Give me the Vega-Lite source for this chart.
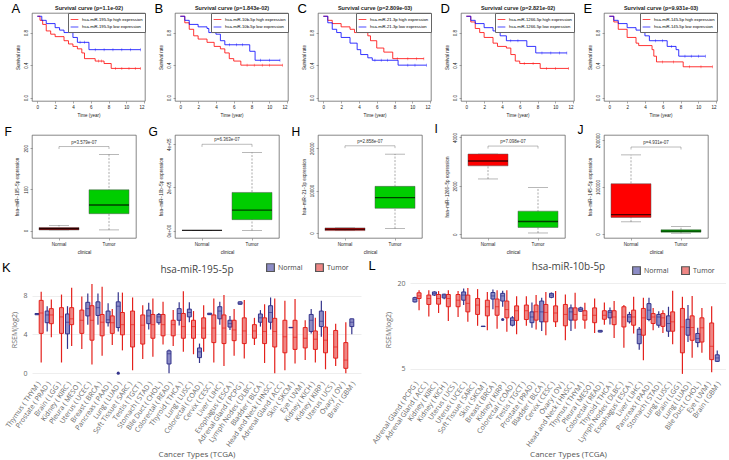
{
"$schema":"https://vega.github.io/schema/vega-lite/v6.json",
"background":"white",
"padding":{"left":2,"top":2,"right":0,"bottom":0},
"config":{
 "font":"Liberation Sans",
 "view":{"stroke":"#555","strokeWidth":0.7},
 "axis":{"labelFontSize":4.5,"titleFontSize":4.5,"titleFontWeight":"normal","labelColor":"#222","titleColor":"#222","tickColor":"#555","tickSize":2,"tickWidth":0.5,"grid":false,"domain":false,"labelPadding":1.5,"titlePadding":3},
 "legend":{"orient":"top-right","offset":0,"padding":2,"strokeColor":"#666","fillColor":"white","labelFontSize":4.2,"symbolType":"stroke","symbolSize":60,"symbolStrokeWidth":1,"rowPadding":0.5,"labelLimit":300,"labelOffset":3},
 "title":{"anchor":"start","frame":"bounds","fontSize":13,"fontWeight":"normal","color":"#000"}
},
"datasets":{
"surv":[
{"p":"A","g":"high","t":0,"s":1},{"p":"A","g":"high","t":0.3,"s":0.95},{"p":"A","g":"high","t":0.6,"s":0.9},{"p":"A","g":"high","t":1,"s":0.82},{"p":"A","g":"high","t":1.5,"s":0.78},{"p":"A","g":"high","t":2,"s":0.75},{"p":"A","g":"high","t":3,"s":0.7},{"p":"A","g":"high","t":3.5,"s":0.66},{"p":"A","g":"high","t":4,"s":0.63},{"p":"A","g":"high","t":4.5,"s":0.6},{"p":"A","g":"high","t":5,"s":0.55},{"p":"A","g":"high","t":5.3,"s":0.48},{"p":"A","g":"high","t":6.5,"s":0.45},{"p":"A","g":"high","t":7.5,"s":0.42},{"p":"A","g":"high","t":8.3,"s":0.36},{"p":"A","g":"high","t":11.6,"s":0.36},
{"p":"A","g":"low","t":0,"s":1},{"p":"A","g":"low","t":0.5,"s":0.95},{"p":"A","g":"low","t":1,"s":0.91},{"p":"A","g":"low","t":2,"s":0.86},{"p":"A","g":"low","t":2.5,"s":0.83},{"p":"A","g":"low","t":3,"s":0.8},{"p":"A","g":"low","t":4,"s":0.74},{"p":"A","g":"low","t":4.5,"s":0.68},{"p":"A","g":"low","t":5.8,"s":0.59},{"p":"A","g":"low","t":11.6,"s":0.59},
{"p":"B","g":"high","t":0,"s":1},{"p":"B","g":"high","t":0.5,"s":0.92},{"p":"B","g":"high","t":1,"s":0.84},{"p":"B","g":"high","t":1.5,"s":0.76},{"p":"B","g":"high","t":2,"s":0.72},{"p":"B","g":"high","t":3,"s":0.68},{"p":"B","g":"high","t":3.8,"s":0.63},{"p":"B","g":"high","t":4.5,"s":0.6},{"p":"B","g":"high","t":5,"s":0.55},{"p":"B","g":"high","t":5.5,"s":0.48},{"p":"B","g":"high","t":6,"s":0.45},{"p":"B","g":"high","t":6.8,"s":0.4},{"p":"B","g":"high","t":11.5,"s":0.4},
{"p":"B","g":"low","t":0,"s":1},{"p":"B","g":"low","t":0.5,"s":0.95},{"p":"B","g":"low","t":1,"s":0.9},{"p":"B","g":"low","t":2,"s":0.87},{"p":"B","g":"low","t":3,"s":0.85},{"p":"B","g":"low","t":3.2,"s":0.8},{"p":"B","g":"low","t":4,"s":0.78},{"p":"B","g":"low","t":4.5,"s":0.7},{"p":"B","g":"low","t":5,"s":0.65},{"p":"B","g":"low","t":7.8,"s":0.57},{"p":"B","g":"low","t":8.4,"s":0.46},{"p":"B","g":"low","t":11.2,"s":0.46},
{"p":"C","g":"high","t":0,"s":1},{"p":"C","g":"high","t":0.5,"s":0.95},{"p":"C","g":"high","t":1,"s":0.91},{"p":"C","g":"high","t":2,"s":0.87},{"p":"C","g":"high","t":3,"s":0.84},{"p":"C","g":"high","t":3.5,"s":0.8},{"p":"C","g":"high","t":5,"s":0.76},{"p":"C","g":"high","t":5.3,"s":0.7},{"p":"C","g":"high","t":6,"s":0.61},{"p":"C","g":"high","t":6.8,"s":0.56},{"p":"C","g":"high","t":7.8,"s":0.48},{"p":"C","g":"high","t":11.3,"s":0.48},
{"p":"C","g":"low","t":0,"s":1},{"p":"C","g":"low","t":0.5,"s":0.92},{"p":"C","g":"low","t":1,"s":0.84},{"p":"C","g":"low","t":1.5,"s":0.8},{"p":"C","g":"low","t":2,"s":0.74},{"p":"C","g":"low","t":3,"s":0.67},{"p":"C","g":"low","t":3.8,"s":0.59},{"p":"C","g":"low","t":4.2,"s":0.53},{"p":"C","g":"low","t":5,"s":0.49},{"p":"C","g":"low","t":5.5,"s":0.46},{"p":"C","g":"low","t":8.4,"s":0.4},{"p":"C","g":"low","t":11.6,"s":0.4},
{"p":"D","g":"high","t":0,"s":1},{"p":"D","g":"high","t":0.5,"s":0.93},{"p":"D","g":"high","t":1,"s":0.85},{"p":"D","g":"high","t":1.5,"s":0.8},{"p":"D","g":"high","t":2,"s":0.74},{"p":"D","g":"high","t":3,"s":0.67},{"p":"D","g":"high","t":3.5,"s":0.63},{"p":"D","g":"high","t":4.5,"s":0.61},{"p":"D","g":"high","t":5,"s":0.53},{"p":"D","g":"high","t":5.5,"s":0.45},{"p":"D","g":"high","t":6,"s":0.42},{"p":"D","g":"high","t":8.3,"s":0.36},{"p":"D","g":"high","t":11.5,"s":0.36},
{"p":"D","g":"low","t":0,"s":1},{"p":"D","g":"low","t":0.5,"s":0.95},{"p":"D","g":"low","t":1,"s":0.91},{"p":"D","g":"low","t":2,"s":0.86},{"p":"D","g":"low","t":3,"s":0.82},{"p":"D","g":"low","t":3.8,"s":0.76},{"p":"D","g":"low","t":4.5,"s":0.7},{"p":"D","g":"low","t":6.8,"s":0.63},{"p":"D","g":"low","t":7.8,"s":0.55},{"p":"D","g":"low","t":11.3,"s":0.55},
{"p":"E","g":"high","t":0,"s":1},{"p":"E","g":"high","t":0.5,"s":0.93},{"p":"E","g":"high","t":1,"s":0.84},{"p":"E","g":"high","t":2,"s":0.74},{"p":"E","g":"high","t":3,"s":0.67},{"p":"E","g":"high","t":3.3,"s":0.64},{"p":"E","g":"high","t":4.8,"s":0.59},{"p":"E","g":"high","t":5,"s":0.51},{"p":"E","g":"high","t":5.3,"s":0.44},{"p":"E","g":"high","t":8.3,"s":0.38},{"p":"E","g":"high","t":11.6,"s":0.38},
{"p":"E","g":"low","t":0,"s":1},{"p":"E","g":"low","t":0.5,"s":0.95},{"p":"E","g":"low","t":1,"s":0.91},{"p":"E","g":"low","t":2,"s":0.86},{"p":"E","g":"low","t":3,"s":0.83},{"p":"E","g":"low","t":4,"s":0.76},{"p":"E","g":"low","t":4.5,"s":0.7},{"p":"E","g":"low","t":6.5,"s":0.63},{"p":"E","g":"low","t":7.5,"s":0.59},{"p":"E","g":"low","t":7.8,"s":0.51},{"p":"E","g":"low","t":10.8,"s":0.51}
],
"cens":[
{"p":"A","g":"high","t":6.9,"s":0.45},{"p":"A","g":"high","t":7.2,"s":0.45},{"p":"A","g":"high","t":8.8,"s":0.36},{"p":"A","g":"high","t":9.5,"s":0.36},{"p":"A","g":"high","t":10.3,"s":0.36},{"p":"A","g":"high","t":11,"s":0.36},{"p":"A","g":"high","t":11.6,"s":0.36},
{"p":"A","g":"low","t":4.8,"s":0.68},{"p":"A","g":"low","t":5.3,"s":0.68},{"p":"A","g":"low","t":6.5,"s":0.59},{"p":"A","g":"low","t":7.5,"s":0.59},{"p":"A","g":"low","t":8.5,"s":0.59},{"p":"A","g":"low","t":9.5,"s":0.59},{"p":"A","g":"low","t":10.5,"s":0.59},{"p":"A","g":"low","t":11.6,"s":0.59},
{"p":"B","g":"high","t":7.5,"s":0.4},{"p":"B","g":"high","t":8.3,"s":0.4},{"p":"B","g":"high","t":9.2,"s":0.4},{"p":"B","g":"high","t":10,"s":0.4},{"p":"B","g":"high","t":11.5,"s":0.4},
{"p":"B","g":"low","t":5.5,"s":0.65},{"p":"B","g":"low","t":6.3,"s":0.65},{"p":"B","g":"low","t":7,"s":0.65},{"p":"B","g":"low","t":9,"s":0.46},{"p":"B","g":"low","t":10,"s":0.46},{"p":"B","g":"low","t":11.2,"s":0.46},
{"p":"C","g":"high","t":8.3,"s":0.48},{"p":"C","g":"high","t":9.5,"s":0.48},{"p":"C","g":"high","t":10.5,"s":0.48},{"p":"C","g":"high","t":11.3,"s":0.48},
{"p":"C","g":"low","t":5.8,"s":0.46},{"p":"C","g":"low","t":6.5,"s":0.46},{"p":"C","g":"low","t":7.2,"s":0.46},{"p":"C","g":"low","t":9.5,"s":0.4},{"p":"C","g":"low","t":10.3,"s":0.4},{"p":"C","g":"low","t":11.6,"s":0.4},
{"p":"D","g":"high","t":6.5,"s":0.42},{"p":"D","g":"high","t":7.5,"s":0.42},{"p":"D","g":"high","t":9,"s":0.36},{"p":"D","g":"high","t":10,"s":0.36},{"p":"D","g":"high","t":11.5,"s":0.36},
{"p":"D","g":"low","t":5,"s":0.7},{"p":"D","g":"low","t":5.8,"s":0.7},{"p":"D","g":"low","t":8.5,"s":0.55},{"p":"D","g":"low","t":9.5,"s":0.55},{"p":"D","g":"low","t":10.5,"s":0.55},{"p":"D","g":"low","t":11.3,"s":0.55},
{"p":"E","g":"high","t":6,"s":0.44},{"p":"E","g":"high","t":7.2,"s":0.44},{"p":"E","g":"high","t":9,"s":0.38},{"p":"E","g":"high","t":10.3,"s":0.38},{"p":"E","g":"high","t":11.6,"s":0.38},
{"p":"E","g":"low","t":5.2,"s":0.7},{"p":"E","g":"low","t":6,"s":0.7},{"p":"E","g":"low","t":7,"s":0.63},{"p":"E","g":"low","t":8.5,"s":0.51},{"p":"E","g":"low","t":9.2,"s":0.51},{"p":"E","g":"low","t":10,"s":0.51},{"p":"E","g":"low","t":10.8,"s":0.51}
],
"bx":[
{"p":"F","c":"Normal","lo":1.6,"q1":1.6,"md":4.8,"q3":7.3,"hi":12.9},{"p":"F","c":"Tumor","lo":1.6,"q1":41,"md":62,"q3":99,"hi":185},
{"p":"G","c":"Normal","lo":300,"q1":800,"md":1100,"q3":1400,"hi":1800},{"p":"G","c":"Tumor","lo":800,"q1":51000,"md":95000,"q3":177000,"hi":362000},
{"p":"H","c":"Normal","lo":549,"q1":549,"md":863,"q3":1176,"hi":1176},{"p":"H","c":"Tumor","lo":1020,"q1":5804,"md":8314,"q3":10980,"hi":18588},
{"p":"I","c":"Normal","lo":2286,"q1":2829,"md":3029,"q3":3314,"hi":3314},{"p":"I","c":"Tumor","lo":57,"q1":286,"md":529,"q3":957,"hi":1929},
{"p":"J","c":"Normal","lo":25641,"q1":35165,"md":41026,"q3":106960,"hi":168498},{"p":"J","c":"Tumor","lo":1465,"q1":3663,"md":5861,"q3":8791,"hi":16117}
],
"br":[
{"p":"F","c":"Normal","top":204,"bot":198},{"p":"F","c":"Tumor","top":204,"bot":198},
{"p":"G","c":"Normal","top":400000,"bot":388000},{"p":"G","c":"Tumor","top":400000,"bot":388000},
{"p":"H","c":"Normal","top":20555,"bot":20000},{"p":"H","c":"Tumor","top":20555,"bot":20000},
{"p":"I","c":"Normal","top":3643,"bot":3540},{"p":"I","c":"Tumor","top":3643,"bot":3540},
{"p":"J","c":"Normal","top":185348,"bot":180000},{"p":"J","c":"Tumor","top":185348,"bot":180000}
],
"brt":[
{"p":"F","top":204,"label":"p=3.579e-07"},{"p":"G","top":400000,"label":"p=6.363e-07"},{"p":"H","top":20555,"label":"p=2.858e-07"},{"p":"I","top":3643,"label":"p=7.098e-07"},{"p":"J","top":185348,"label":"p=4.931e-07"}
],
"kk":[
{"c":"Thymus ( THYM )","g":"Normal","lo":6.0,"q1":6.02,"md":6.1,"q3":6.15,"hi":6.2},
{"c":"Prostate ( PRAD )","g":"Normal","lo":4.3,"q1":5.2,"md":6.0,"q3":6.4,"hi":6.9},
{"c":"Kidney ( KIRC )","g":"Normal","lo":2.5,"q1":4.05,"md":5.25,"q3":6.1,"hi":6.9},
{"c":"Uterus ( UCEC )","g":"Normal","lo":5.0,"q1":5.9,"md":6.65,"q3":7.3,"hi":8.2},
{"c":"Breast ( BRCA )","g":"Normal","lo":5.0,"q1":5.95,"md":6.75,"q3":7.35,"hi":8.2},
{"c":"Pancreas ( PAAD )","g":"Normal","lo":4.8,"q1":5.2,"md":5.5,"q3":6.4,"hi":7.2},
{"c":"Lung ( LUAD )","g":"Normal","lo":4.3,"q1":4.7,"md":6.9,"q3":7.35,"hi":8.35},
{"c":"Stomach ( STAD )","g":"Normal","lo":4.5,"q1":5.1,"md":5.9,"q3":6.5,"hi":7.25},
{"c":"Bile Duct ( CHOL )","g":"Normal","lo":5.0,"q1":5.2,"md":5.8,"q3":6.05,"hi":6.2},
{"c":"Colorectal ( READ )","g":"Normal","lo":0.0,"q1":0.95,"md":2.0,"q3":2.3,"hi":2.45},
{"c":"Thyroid ( THCA )","g":"Normal","lo":4.9,"q1":5.45,"md":6.15,"q3":6.65,"hi":7.3},
{"c":"Lung ( LUSC )","g":"Normal","lo":5.25,"q1":5.8,"md":6.25,"q3":6.6,"hi":7.3},
{"c":"Colorectal ( COAD )","g":"Normal","lo":1.05,"q1":1.6,"md":2.2,"q3":2.6,"hi":3.05},
{"c":"Cervix ( CESC )","g":"Normal","lo":6.0,"q1":6.03,"md":6.1,"q3":6.18,"hi":6.2},
{"c":"Liver ( LIHC )","g":"Normal","lo":5.0,"q1":5.6,"md":6.4,"q3":6.85,"hi":7.35},
{"c":"Esophagus ( ESCA )","g":"Normal","lo":4.45,"q1":4.75,"md":5.1,"q3":5.45,"hi":5.9},
{"c":"Adrenal Gland ( PCPG )","g":"Normal","lo":7.05,"q1":7.1,"md":7.2,"q3":7.35,"hi":7.4},
{"c":"Bladder ( BLCA )","g":"Normal","lo":4.8,"q1":5.25,"md":5.7,"q3":6.1,"hi":6.5},
{"c":"Head and Neck ( HNSC )","g":"Normal","lo":4.5,"q1":5.25,"md":6.25,"q3":6.95,"hi":7.8},
{"c":"Skin ( SKCM )","g":"Normal","lo":4.65,"q1":4.68,"md":4.7,"q3":4.72,"hi":4.75},
{"c":"Kidney ( KICH )","g":"Normal","lo":4.1,"q1":4.3,"md":5.45,"q3":6.05,"hi":6.6},
{"c":"Kidney ( KIRP )","g":"Normal","lo":3.75,"q1":4.8,"md":5.35,"q3":6.4,"hi":7.45},
{"c":"Brain ( GBM )","g":"Normal","lo":4.0,"q1":4.8,"md":5.25,"q3":5.6,"hi":5.6},
{"c":"Thymus ( THYM )","g":"Tumor","lo":1.1,"q1":4.1,"md":6.2,"q3":7.5,"hi":8.4},
{"c":"Prostate ( PRAD )","g":"Tumor","lo":3.7,"q1":5.1,"md":6.0,"q3":6.65,"hi":7.6},
{"c":"Brain ( LGG )","g":"Tumor","lo":1.1,"q1":4.1,"md":5.8,"q3":6.75,"hi":8.1},
{"c":"Kidney ( KIRC )","g":"Tumor","lo":2.8,"q1":5.0,"md":5.6,"q3":6.75,"hi":8.8},
{"c":"Pleura ( MESO )","g":"Tumor","lo":2.5,"q1":4.1,"md":5.45,"q3":6.5,"hi":7.9},
{"c":"Uterus ( UCEC )","g":"Tumor","lo":0.9,"q1":3.4,"md":5.45,"q3":6.95,"hi":9.2},
{"c":"Breast ( BRCA )","g":"Tumor","lo":1.8,"q1":3.85,"md":5.25,"q3":6.05,"hi":8.9},
{"c":"Pancreas ( PAAD )","g":"Tumor","lo":2.9,"q1":4.1,"md":5.2,"q3":5.9,"hi":6.6},
{"c":"Lung ( LUAD )","g":"Tumor","lo":2.35,"q1":3.95,"md":5.0,"q3":6.25,"hi":8.3},
{"c":"Soft Tissue ( SARC )","g":"Tumor","lo":0.3,"q1":2.7,"md":5.0,"q3":6.4,"hi":7.8},
{"c":"Testis ( TGCT )","g":"Tumor","lo":1.45,"q1":3.0,"md":4.95,"q3":6.0,"hi":7.0},
{"c":"Stomach ( STAD )","g":"Tumor","lo":1.7,"q1":3.6,"md":5.0,"q3":6.05,"hi":7.7},
{"c":"Bile Duct ( CHOL )","g":"Tumor","lo":2.95,"q1":3.85,"md":5.0,"q3":6.05,"hi":7.35},
{"c":"Colorectal ( READ )","g":"Tumor","lo":2.8,"q1":3.85,"md":5.0,"q3":5.45,"hi":6.5},
{"c":"Thyroid ( THCA )","g":"Tumor","lo":2.2,"q1":3.6,"md":4.8,"q3":6.15,"hi":8.45},
{"c":"Lung ( LUSC )","g":"Tumor","lo":1.95,"q1":3.6,"md":4.8,"q3":5.45,"hi":6.4},
{"c":"Colorectal ( COAD )","g":"Tumor","lo":2.2,"q1":3.6,"md":4.65,"q3":5.7,"hi":7.0},
{"c":"Cervix ( CESC )","g":"Tumor","lo":1.1,"q1":3.15,"md":4.65,"q3":6.0,"hi":7.7},
{"c":"Liver ( LIHC )","g":"Tumor","lo":0.75,"q1":3.05,"md":4.65,"q3":6.0,"hi":8.05},
{"c":"Esophagus ( ESCA )","g":"Tumor","lo":1.8,"q1":3.35,"md":4.45,"q3":5.45,"hi":6.6},
{"c":"Adrenal Gland ( PCPG )","g":"Tumor","lo":1.5,"q1":3.05,"md":4.35,"q3":5.7,"hi":7.55},
{"c":"Lymph Nodes ( DLBC )","g":"Tumor","lo":2.9,"q1":3.6,"md":4.35,"q3":5.0,"hi":5.7},
{"c":"Bladder ( BLCA )","g":"Tumor","lo":1.05,"q1":3.05,"md":4.3,"q3":5.7,"hi":7.1},
{"c":"Head and Neck ( HNSC )","g":"Tumor","lo":0.0,"q1":2.7,"md":4.3,"q3":5.65,"hi":7.7},
{"c":"Adrenal Gland ( ACC )","g":"Tumor","lo":0.3,"q1":2.1,"md":3.75,"q3":5.45,"hi":7.45},
{"c":"Skin ( SKCM )","g":"Tumor","lo":1.0,"q1":2.45,"md":3.7,"q3":5.45,"hi":7.65},
{"c":"Eye ( UVM )","g":"Tumor","lo":1.35,"q1":2.6,"md":3.6,"q3":4.7,"hi":5.45},
{"c":"Kidney ( KICH )","g":"Tumor","lo":1.1,"q1":2.45,"md":3.5,"q3":4.35,"hi":5.7},
{"c":"Kidney ( KIRP )","g":"Tumor","lo":0.4,"q1":2.1,"md":3.4,"q3":4.75,"hi":6.4},
{"c":"Uterus ( UCS )","g":"Tumor","lo":0.75,"q1":1.55,"md":2.7,"q3":4.4,"hi":5.1},
{"c":"Ovary ( OV )","g":"Tumor","lo":0.0,"q1":0.5,"md":1.35,"q3":3.15,"hi":5.25}
],
"kout":[{"c":"Lung ( LUAD )","g":"Normal","v":0.0}],
"ll":[
{"c":"Adrenal Gland ( PCPG )","g":"Normal","lo":16.65,"q1":16.75,"md":17.2,"q3":17.5,"hi":17.65},
{"c":"Kidney ( KIRC )","g":"Normal","lo":17.8,"q1":17.95,"md":18.25,"q3":18.5,"hi":18.6},
{"c":"Kidney ( KICH )","g":"Normal","lo":17.2,"q1":17.45,"md":17.8,"q3":18.1,"hi":18.2},
{"c":"Uterus ( UCEC )","g":"Normal","lo":16.2,"q1":17.05,"md":17.95,"q3":18.5,"hi":19.1},
{"c":"Skin ( SKCM )","g":"Normal","lo":12.4,"q1":12.42,"md":12.45,"q3":12.48,"hi":12.5},
{"c":"Breast ( BRCA )","g":"Normal","lo":15.45,"q1":17.25,"md":17.8,"q3":18.4,"hi":18.95},
{"c":"Kidney ( KIRP )","g":"Normal","lo":15.9,"q1":16.9,"md":17.8,"q3":18.25,"hi":18.7},
{"c":"Colorectal ( COAD )","g":"Normal","lo":12.45,"q1":12.65,"md":13.5,"q3":13.95,"hi":14.25},
{"c":"Prostate ( PRAD )","g":"Normal","lo":12.2,"q1":13.1,"md":14.1,"q3":15.0,"hi":16.65},
{"c":"Bladder ( BLCA )","g":"Normal","lo":11.65,"q1":13.25,"md":15.0,"q3":16.9,"hi":17.5},
{"c":"Cervix ( CESC )","g":"Normal","lo":17.4,"q1":17.55,"md":17.95,"q3":18.25,"hi":18.4},
{"c":"Head and Neck ( HNSC )","g":"Normal","lo":11.65,"q1":13.55,"md":15.0,"q3":15.7,"hi":16.3},
{"c":"Thymus ( THYM )","g":"Normal","lo":15.0,"q1":15.1,"md":15.4,"q3":15.7,"hi":15.9},
{"c":"Colorectal ( READ )","g":"Normal","lo":11.4,"q1":11.45,"md":11.6,"q3":11.75,"hi":11.8},
{"c":"Thyroid ( THCA )","g":"Normal","lo":12.8,"q1":13.95,"md":14.9,"q3":15.2,"hi":15.75},
{"c":"Esophagus ( ESCA )","g":"Normal","lo":12.95,"q1":13.25,"md":14.1,"q3":14.55,"hi":15.0},
{"c":"Liver ( LIHC )","g":"Normal","lo":8.35,"q1":9.4,"md":11.05,"q3":11.95,"hi":12.35},
{"c":"Pancreas ( PAAD )","g":"Normal","lo":13.35,"q1":13.65,"md":15.3,"q3":16.45,"hi":17.5},
{"c":"Stomach ( STAD )","g":"Normal","lo":12.2,"q1":12.65,"md":14.1,"q3":14.55,"hi":15.1},
{"c":"Lung ( LUSC )","g":"Normal","lo":10.6,"q1":11.6,"md":12.95,"q3":14.3,"hi":15.9},
{"c":"Lung ( LUAD )","g":"Normal","lo":9.7,"q1":10.9,"md":12.25,"q3":13.7,"hi":16.2},
{"c":"Bile Duct ( CHOL )","g":"Normal","lo":8.8,"q1":9.6,"md":10.3,"q3":11.2,"hi":12.2},
{"c":"Brain ( GBM )","g":"Normal","lo":6.2,"q1":6.3,"md":6.9,"q3":7.45,"hi":8.2},
{"c":"Adrenal Gland ( PCPG )","g":"Tumor","lo":15.3,"q1":17.35,"md":17.8,"q3":18.35,"hi":18.8},
{"c":"Adrenal Gland ( ACC )","g":"Tumor","lo":14.2,"q1":16.3,"md":17.35,"q3":17.95,"hi":18.8},
{"c":"Kidney ( KIRC )","g":"Tumor","lo":14.8,"q1":16.35,"md":17.35,"q3":18.05,"hi":18.65},
{"c":"Kidney ( KICH )","g":"Tumor","lo":13.4,"q1":15.9,"md":17.35,"q3":18.05,"hi":18.8},
{"c":"Uterus ( UCS )","g":"Tumor","lo":14.1,"q1":15.9,"md":17.05,"q3":18.05,"hi":18.65},
{"c":"Uterus ( UCEC )","g":"Tumor","lo":13.25,"q1":15.0,"md":16.5,"q3":17.95,"hi":19.2},
{"c":"Soft Tissue ( SARC )","g":"Tumor","lo":12.55,"q1":14.55,"md":16.2,"q3":17.35,"hi":19.0},
{"c":"Skin ( SKCM )","g":"Tumor","lo":11.75,"q1":14.3,"md":15.9,"q3":17.05,"hi":18.5},
{"c":"Breast ( BRCA )","g":"Tumor","lo":12.05,"q1":14.4,"md":15.9,"q3":17.25,"hi":18.8},
{"c":"Kidney ( KIRP )","g":"Tumor","lo":11.5,"q1":13.95,"md":15.4,"q3":16.9,"hi":18.8},
{"c":"Colorectal ( COAD )","g":"Tumor","lo":11.05,"q1":13.5,"md":15.2,"q3":16.05,"hi":17.75},
{"c":"Testis ( TGCT )","g":"Tumor","lo":12.55,"q1":13.65,"md":15.2,"q3":16.2,"hi":17.75},
{"c":"Prostate ( PRAD )","g":"Tumor","lo":11.9,"q1":13.55,"md":15.0,"q3":16.2,"hi":17.95},
{"c":"Bladder ( BLCA )","g":"Tumor","lo":10.9,"q1":13.25,"md":14.9,"q3":16.3,"hi":18.5},
{"c":"Cervix ( CESC )","g":"Tumor","lo":12.35,"q1":13.25,"md":14.8,"q3":16.05,"hi":18.65},
{"c":"Ovary ( OV )","g":"Tumor","lo":10.0,"q1":12.55,"md":14.55,"q3":16.3,"hi":18.05},
{"c":"Head and Neck ( HNSC )","g":"Tumor","lo":12.05,"q1":13.55,"md":14.55,"q3":15.7,"hi":18.35},
{"c":"Thymus ( THYM )","g":"Tumor","lo":12.05,"q1":13.55,"md":14.4,"q3":15.2,"hi":16.6},
{"c":"Pleura ( MESO )","g":"Tumor","lo":11.3,"q1":13.1,"md":14.4,"q3":15.7,"hi":17.35},
{"c":"Colorectal ( READ )","g":"Tumor","lo":12.75,"q1":13.7,"md":14.4,"q3":15.2,"hi":16.65},
{"c":"Thyroid ( THCA )","g":"Tumor","lo":10.4,"q1":12.75,"md":14.1,"q3":15.2,"hi":16.9},
{"c":"Lymph Nodes ( DLBC )","g":"Tumor","lo":8.7,"q1":12.35,"md":14.1,"q3":15.9,"hi":16.2},
{"c":"Esophagus ( ESCA )","g":"Tumor","lo":11.2,"q1":12.65,"md":14.1,"q3":15.3,"hi":17.65},
{"c":"Liver ( LIHC )","g":"Tumor","lo":6.5,"q1":10.9,"md":13.95,"q3":15.6,"hi":17.5},
{"c":"Pancreas ( PAAD )","g":"Tumor","lo":11.75,"q1":12.95,"md":14.1,"q3":14.7,"hi":15.7},
{"c":"Stomach ( STAD )","g":"Tumor","lo":11.3,"q1":12.45,"md":13.95,"q3":14.7,"hi":15.3},
{"c":"Lung ( LUSC )","g":"Tumor","lo":9.3,"q1":11.6,"md":13.25,"q3":15.0,"hi":18.7},
{"c":"Brain ( LGG )","g":"Tumor","lo":4.1,"q1":7.8,"md":12.35,"q3":15.6,"hi":17.65},
{"c":"Lung ( LUAD )","g":"Tumor","lo":6.95,"q1":10.0,"md":12.25,"q3":14.3,"hi":17.8},
{"c":"Bile Duct ( CHOL )","g":"Tumor","lo":7.8,"q1":9.7,"md":12.2,"q3":13.95,"hi":15.7},
{"c":"Eye ( UVM )","g":"Tumor","lo":4.4,"q1":6.6,"md":8.95,"q3":13.05,"hi":16.0}
],
"lout":[{"c":"Kidney ( KIRP )","g":"Normal","v":13.65}]
},
"resolve":{"scale":{"color":"independent","fill":"independent","stroke":"independent"},"legend":{"color":"independent","fill":"independent","stroke":"independent"}},
"spacing":6,
"vconcat":[
{"spacing":8,
 "resolve":{"scale":{"color":"independent"},"legend":{"color":"independent"}},
 "hconcat":[
 {"width":113,"height":88,"title":{"text":"A","offset":-11,"dx":-4},"resolve":{"axis":{"x":"independent"}},
  "layer":[
  {"data":{"name":"surv"},"transform":[{"filter":"datum.p==='A'"}],"mark":{"type":"line","interpolate":"step-after","strokeWidth":0.8},
   "encoding":{"x":{"field":"t","type":"quantitative","scale":{"domain":[-0.6,12.1],"nice":false,"zero":false},"axis":{"values":[0,2,4,6,8,10,12],"title":"Time (year)"}},
    "y":{"field":"s","type":"quantitative","scale":{"domain":[-0.04,1.04],"nice":false,"zero":false},"axis":{"values":[0,0.2,0.4,0.6,0.8,1],"format":".1f","labelAngle":270,"title":"Survival rate"}},
    "color":{"field":"g","type":"nominal","scale":{"domain":["high","low"],"range":["#ff0000","#0000ff"]},"legend":{"title":null,"labelExpr":"'hsa-miR-195-5p ' + datum.label + ' expression'"}}}},
  {"data":{"name":"cens"},"transform":[{"filter":"datum.p==='A'"}],"mark":{"type":"tick","orient":"vertical","size":3,"thickness":0.5},
   "encoding":{"x":{"field":"t","type":"quantitative","axis":{"orient":"top","labels":false,"ticks":false,"domain":false,"title":"Survival curve (p=1.1e-02)","titleFontSize":5.5,"titleFontWeight":"bold","titlePadding":3}},
    "y":{"field":"s","type":"quantitative"},"color":{"field":"g","type":"nominal"}}}
  ]},
 {"width":113,"height":88,"title":{"text":"B","offset":-11,"dx":-4},"resolve":{"axis":{"x":"independent"}},
  "layer":[
  {"data":{"name":"surv"},"transform":[{"filter":"datum.p==='B'"}],"mark":{"type":"line","interpolate":"step-after","strokeWidth":0.8},
   "encoding":{"x":{"field":"t","type":"quantitative","scale":{"domain":[-0.6,12.1],"nice":false,"zero":false},"axis":{"values":[0,2,4,6,8,10,12],"title":"Time (year)"}},
    "y":{"field":"s","type":"quantitative","scale":{"domain":[-0.04,1.04],"nice":false,"zero":false},"axis":{"values":[0,0.2,0.4,0.6,0.8,1],"format":".1f","labelAngle":270,"title":"Survival rate"}},
    "color":{"field":"g","type":"nominal","scale":{"domain":["high","low"],"range":["#ff0000","#0000ff"]},"legend":{"title":null,"labelExpr":"'hsa-miR-10b-5p ' + datum.label + ' expression'"}}}},
  {"data":{"name":"cens"},"transform":[{"filter":"datum.p==='B'"}],"mark":{"type":"tick","orient":"vertical","size":3,"thickness":0.5},
   "encoding":{"x":{"field":"t","type":"quantitative","axis":{"orient":"top","labels":false,"ticks":false,"domain":false,"title":"Survival curve (p=1.843e-02)","titleFontSize":5.5,"titleFontWeight":"bold","titlePadding":3}},
    "y":{"field":"s","type":"quantitative"},"color":{"field":"g","type":"nominal"}}}
  ]},
 {"width":113,"height":88,"title":{"text":"C","offset":-11,"dx":-4},"resolve":{"axis":{"x":"independent"}},
  "layer":[
  {"data":{"name":"surv"},"transform":[{"filter":"datum.p==='C'"}],"mark":{"type":"line","interpolate":"step-after","strokeWidth":0.8},
   "encoding":{"x":{"field":"t","type":"quantitative","scale":{"domain":[-0.6,12.1],"nice":false,"zero":false},"axis":{"values":[0,2,4,6,8,10,12],"title":"Time (year)"}},
    "y":{"field":"s","type":"quantitative","scale":{"domain":[-0.04,1.04],"nice":false,"zero":false},"axis":{"values":[0,0.2,0.4,0.6,0.8,1],"format":".1f","labelAngle":270,"title":"Survival rate"}},
    "color":{"field":"g","type":"nominal","scale":{"domain":["high","low"],"range":["#ff0000","#0000ff"]},"legend":{"title":null,"labelExpr":"'hsa-miR-21-3p ' + datum.label + ' expression'"}}}},
  {"data":{"name":"cens"},"transform":[{"filter":"datum.p==='C'"}],"mark":{"type":"tick","orient":"vertical","size":3,"thickness":0.5},
   "encoding":{"x":{"field":"t","type":"quantitative","axis":{"orient":"top","labels":false,"ticks":false,"domain":false,"title":"Survival curve (p=2.809e-03)","titleFontSize":5.5,"titleFontWeight":"bold","titlePadding":3}},
    "y":{"field":"s","type":"quantitative"},"color":{"field":"g","type":"nominal"}}}
  ]},
 {"width":113,"height":88,"title":{"text":"D","offset":-11,"dx":-4},"resolve":{"axis":{"x":"independent"}},
  "layer":[
  {"data":{"name":"surv"},"transform":[{"filter":"datum.p==='D'"}],"mark":{"type":"line","interpolate":"step-after","strokeWidth":0.8},
   "encoding":{"x":{"field":"t","type":"quantitative","scale":{"domain":[-0.6,12.1],"nice":false,"zero":false},"axis":{"values":[0,2,4,6,8,10,12],"title":"Time (year)"}},
    "y":{"field":"s","type":"quantitative","scale":{"domain":[-0.04,1.04],"nice":false,"zero":false},"axis":{"values":[0,0.2,0.4,0.6,0.8,1],"format":".1f","labelAngle":270,"title":"Survival rate"}},
    "color":{"field":"g","type":"nominal","scale":{"domain":["high","low"],"range":["#ff0000","#0000ff"]},"legend":{"title":null,"labelExpr":"'hsa-miR-1266-5p ' + datum.label + ' expression'"}}}},
  {"data":{"name":"cens"},"transform":[{"filter":"datum.p==='D'"}],"mark":{"type":"tick","orient":"vertical","size":3,"thickness":0.5},
   "encoding":{"x":{"field":"t","type":"quantitative","axis":{"orient":"top","labels":false,"ticks":false,"domain":false,"title":"Survival curve (p=2.821e-02)","titleFontSize":5.5,"titleFontWeight":"bold","titlePadding":3}},
    "y":{"field":"s","type":"quantitative"},"color":{"field":"g","type":"nominal"}}}
  ]},
 {"width":113,"height":88,"title":{"text":"E","offset":-11,"dx":-4},"resolve":{"axis":{"x":"independent"}},
  "layer":[
  {"data":{"name":"surv"},"transform":[{"filter":"datum.p==='E'"}],"mark":{"type":"line","interpolate":"step-after","strokeWidth":0.8},
   "encoding":{"x":{"field":"t","type":"quantitative","scale":{"domain":[-0.6,12.1],"nice":false,"zero":false},"axis":{"values":[0,2,4,6,8,10,12],"title":"Time (year)"}},
    "y":{"field":"s","type":"quantitative","scale":{"domain":[-0.04,1.04],"nice":false,"zero":false},"axis":{"values":[0,0.2,0.4,0.6,0.8,1],"format":".1f","labelAngle":270,"title":"Survival rate"}},
    "color":{"field":"g","type":"nominal","scale":{"domain":["high","low"],"range":["#ff0000","#0000ff"]},"legend":{"title":null,"labelExpr":"'hsa-miR-145-5p ' + datum.label + ' expression'"}}}},
  {"data":{"name":"cens"},"transform":[{"filter":"datum.p==='E'"}],"mark":{"type":"tick","orient":"vertical","size":3,"thickness":0.5},
   "encoding":{"x":{"field":"t","type":"quantitative","axis":{"orient":"top","labels":false,"ticks":false,"domain":false,"title":"Survival curve (p=9.931e-03)","titleFontSize":5.5,"titleFontWeight":"bold","titlePadding":3}},
    "y":{"field":"s","type":"quantitative"},"color":{"field":"g","type":"nominal"}}}
  ]}
 ]},
{"spacing":11,
 "resolve":{"scale":{"fill":"independent"},"legend":{"fill":"independent"}},
 "hconcat":[
 {"width":104,"height":103,"title":{"text":"F","offset":-4,"dx":-10,"fontSize":12},
  "layer":[
  {"data":{"name":"bx"},"transform":[{"filter":"datum.p==='F'"}],"mark":{"type":"rule","strokeDash":[2,1.5],"strokeWidth":0.5,"color":"#555"},
   "encoding":{"x":{"field":"c","type":"nominal","scale":{"paddingInner":0.2,"paddingOuter":0.14},"axis":{"labelAngle":0,"title":"clinical"}},
    "y":{"field":"lo","type":"quantitative","scale":{"domain":[-18,232],"nice":false,"zero":false},"axis":{"values":[0,50,100,150,200],"labelAngle":270,"title":"hsa−miR−195−5p expression","titlePadding":4}},"y2":{"field":"hi"}}},
  {"data":{"name":"bx"},"transform":[{"filter":"datum.p==='F'"}],"mark":{"type":"tick","size":20,"thickness":0.6,"color":"#555"},"encoding":{"x":{"field":"c","type":"nominal"},"y":{"field":"lo","type":"quantitative"}}},
  {"data":{"name":"bx"},"transform":[{"filter":"datum.p==='F'"}],"mark":{"type":"tick","size":20,"thickness":0.6,"color":"#555"},"encoding":{"x":{"field":"c","type":"nominal"},"y":{"field":"hi","type":"quantitative"}}},
  {"data":{"name":"bx"},"transform":[{"filter":"datum.p==='F'"}],"mark":{"type":"bar","stroke":"#555","strokeWidth":0.5},"encoding":{"x":{"field":"c","type":"nominal"},"y":{"field":"q1","type":"quantitative"},"y2":{"field":"q3"},"fill":{"field":"c","type":"nominal","scale":{"domain":["Normal","Tumor"],"range":["#8b0000","#00cd00"]},"legend":null}}},
  {"data":{"name":"bx"},"transform":[{"filter":"datum.p==='F'"}],"mark":{"type":"tick","size":40,"thickness":1.4,"color":"#000"},"encoding":{"x":{"field":"c","type":"nominal"},"y":{"field":"md","type":"quantitative"}}},
  {"data":{"name":"br"},"transform":[{"filter":"datum.p==='F'"}],"mark":{"type":"line","strokeWidth":0.5,"color":"#777"},"encoding":{"x":{"field":"c","type":"nominal"},"y":{"field":"top","type":"quantitative"}}},
  {"data":{"name":"br"},"transform":[{"filter":"datum.p==='F'"}],"mark":{"type":"rule","strokeWidth":0.5,"color":"#777"},"encoding":{"x":{"field":"c","type":"nominal"},"y":{"field":"top","type":"quantitative"},"y2":{"field":"bot"}}},
  {"data":{"name":"brt"},"transform":[{"filter":"datum.p==='F'"}],"mark":{"type":"text","fontSize":4.5,"color":"#333","dy":-4},"encoding":{"y":{"field":"top","type":"quantitative"},"text":{"field":"label"}}}
  ]},
 {"width":104,"height":103,"title":{"text":"G","offset":-4,"dx":-10,"fontSize":12},
  "layer":[
  {"data":{"name":"bx"},"transform":[{"filter":"datum.p==='G'"}],"mark":{"type":"rule","strokeDash":[2,1.5],"strokeWidth":0.5,"color":"#555"},
   "encoding":{"x":{"field":"c","type":"nominal","scale":{"paddingInner":0.2,"paddingOuter":0.14},"axis":{"labelAngle":0,"title":"clinical"}},
    "y":{"field":"lo","type":"quantitative","scale":{"domain":[-34000,443000],"nice":false,"zero":false},"axis":{"values":[0,100000,200000,300000,400000],"labelExpr":"['0e+00','1e+05','2e+05','3e+05','4e+05'][round(datum.value/100000)]","labelAngle":270,"title":"hsa−miR−10b−5p expression"}},"y2":{"field":"hi"}}},
  {"data":{"name":"bx"},"transform":[{"filter":"datum.p==='G'"}],"mark":{"type":"tick","size":20,"thickness":0.6,"color":"#555"},"encoding":{"x":{"field":"c","type":"nominal"},"y":{"field":"lo","type":"quantitative"}}},
  {"data":{"name":"bx"},"transform":[{"filter":"datum.p==='G'"}],"mark":{"type":"tick","size":20,"thickness":0.6,"color":"#555"},"encoding":{"x":{"field":"c","type":"nominal"},"y":{"field":"hi","type":"quantitative"}}},
  {"data":{"name":"bx"},"transform":[{"filter":"datum.p==='G'"}],"mark":{"type":"bar","stroke":"#555","strokeWidth":0.5},"encoding":{"x":{"field":"c","type":"nominal"},"y":{"field":"q1","type":"quantitative"},"y2":{"field":"q3"},"fill":{"field":"c","type":"nominal","scale":{"domain":["Normal","Tumor"],"range":["#8b0000","#00cd00"]},"legend":null}}},
  {"data":{"name":"bx"},"transform":[{"filter":"datum.p==='G'"}],"mark":{"type":"tick","size":40,"thickness":1.4,"color":"#000"},"encoding":{"x":{"field":"c","type":"nominal"},"y":{"field":"md","type":"quantitative"}}},
  {"data":{"name":"br"},"transform":[{"filter":"datum.p==='G'"}],"mark":{"type":"line","strokeWidth":0.5,"color":"#777"},"encoding":{"x":{"field":"c","type":"nominal"},"y":{"field":"top","type":"quantitative"}}},
  {"data":{"name":"br"},"transform":[{"filter":"datum.p==='G'"}],"mark":{"type":"rule","strokeWidth":0.5,"color":"#777"},"encoding":{"x":{"field":"c","type":"nominal"},"y":{"field":"top","type":"quantitative"},"y2":{"field":"bot"}}},
  {"data":{"name":"brt"},"transform":[{"filter":"datum.p==='G'"}],"mark":{"type":"text","fontSize":4.5,"color":"#333","dy":-4},"encoding":{"y":{"field":"top","type":"quantitative"},"text":{"field":"label"}}}
  ]},
 {"width":104,"height":103,"title":{"text":"H","offset":-4,"dx":-10,"fontSize":12},
  "layer":[
  {"data":{"name":"bx"},"transform":[{"filter":"datum.p==='H'"}],"mark":{"type":"rule","strokeDash":[2,1.5],"strokeWidth":0.5,"color":"#555"},
   "encoding":{"x":{"field":"c","type":"nominal","scale":{"paddingInner":0.2,"paddingOuter":0.14},"axis":{"labelAngle":0,"title":"clinical"}},
    "y":{"field":"lo","type":"quantitative","scale":{"domain":[-1200,23100],"nice":false,"zero":false},"axis":{"values":[0,5000,10000,15000,20000],"format":"d","labelAngle":270,"title":"hsa−miR−21−3p expression"}},"y2":{"field":"hi"}}},
  {"data":{"name":"bx"},"transform":[{"filter":"datum.p==='H'"}],"mark":{"type":"tick","size":20,"thickness":0.6,"color":"#555"},"encoding":{"x":{"field":"c","type":"nominal"},"y":{"field":"lo","type":"quantitative"}}},
  {"data":{"name":"bx"},"transform":[{"filter":"datum.p==='H'"}],"mark":{"type":"tick","size":20,"thickness":0.6,"color":"#555"},"encoding":{"x":{"field":"c","type":"nominal"},"y":{"field":"hi","type":"quantitative"}}},
  {"data":{"name":"bx"},"transform":[{"filter":"datum.p==='H'"}],"mark":{"type":"bar","stroke":"#555","strokeWidth":0.5},"encoding":{"x":{"field":"c","type":"nominal"},"y":{"field":"q1","type":"quantitative"},"y2":{"field":"q3"},"fill":{"field":"c","type":"nominal","scale":{"domain":["Normal","Tumor"],"range":["#ff0000","#00cd00"]},"legend":null}}},
  {"data":{"name":"bx"},"transform":[{"filter":"datum.p==='H'"}],"mark":{"type":"tick","size":40,"thickness":1.4,"color":"#000"},"encoding":{"x":{"field":"c","type":"nominal"},"y":{"field":"md","type":"quantitative"}}},
  {"data":{"name":"br"},"transform":[{"filter":"datum.p==='H'"}],"mark":{"type":"line","strokeWidth":0.5,"color":"#777"},"encoding":{"x":{"field":"c","type":"nominal"},"y":{"field":"top","type":"quantitative"}}},
  {"data":{"name":"br"},"transform":[{"filter":"datum.p==='H'"}],"mark":{"type":"rule","strokeWidth":0.5,"color":"#777"},"encoding":{"x":{"field":"c","type":"nominal"},"y":{"field":"top","type":"quantitative"},"y2":{"field":"bot"}}},
  {"data":{"name":"brt"},"transform":[{"filter":"datum.p==='H'"}],"mark":{"type":"text","fontSize":4.5,"color":"#333","dy":-4},"encoding":{"y":{"field":"top","type":"quantitative"},"text":{"field":"label"}}}
  ]},
 {"width":104,"height":103,"title":{"text":"I","offset":-4,"dx":-10,"fontSize":12},
  "layer":[
  {"data":{"name":"bx"},"transform":[{"filter":"datum.p==='I'"}],"mark":{"type":"rule","strokeDash":[2,1.5],"strokeWidth":0.5,"color":"#555"},
   "encoding":{"x":{"field":"c","type":"nominal","scale":{"paddingInner":0.2,"paddingOuter":0.14},"axis":{"labelAngle":0,"title":"clinical"}},
    "y":{"field":"lo","type":"quantitative","scale":{"domain":[-150,4100],"nice":false,"zero":false},"axis":{"values":[0,1000,2000,3000,4000],"format":"d","labelAngle":270,"title":"hsa−miR−1266−5p expression"}},"y2":{"field":"hi"}}},
  {"data":{"name":"bx"},"transform":[{"filter":"datum.p==='I'"}],"mark":{"type":"tick","size":20,"thickness":0.6,"color":"#555"},"encoding":{"x":{"field":"c","type":"nominal"},"y":{"field":"lo","type":"quantitative"}}},
  {"data":{"name":"bx"},"transform":[{"filter":"datum.p==='I'"}],"mark":{"type":"tick","size":20,"thickness":0.6,"color":"#555"},"encoding":{"x":{"field":"c","type":"nominal"},"y":{"field":"hi","type":"quantitative"}}},
  {"data":{"name":"bx"},"transform":[{"filter":"datum.p==='I'"}],"mark":{"type":"bar","stroke":"#555","strokeWidth":0.5},"encoding":{"x":{"field":"c","type":"nominal"},"y":{"field":"q1","type":"quantitative"},"y2":{"field":"q3"},"fill":{"field":"c","type":"nominal","scale":{"domain":["Normal","Tumor"],"range":["#ff0000","#00cd00"]},"legend":null}}},
  {"data":{"name":"bx"},"transform":[{"filter":"datum.p==='I'"}],"mark":{"type":"tick","size":40,"thickness":1.4,"color":"#000"},"encoding":{"x":{"field":"c","type":"nominal"},"y":{"field":"md","type":"quantitative"}}},
  {"data":{"name":"br"},"transform":[{"filter":"datum.p==='I'"}],"mark":{"type":"line","strokeWidth":0.5,"color":"#777"},"encoding":{"x":{"field":"c","type":"nominal"},"y":{"field":"top","type":"quantitative"}}},
  {"data":{"name":"br"},"transform":[{"filter":"datum.p==='I'"}],"mark":{"type":"rule","strokeWidth":0.5,"color":"#777"},"encoding":{"x":{"field":"c","type":"nominal"},"y":{"field":"top","type":"quantitative"},"y2":{"field":"bot"}}},
  {"data":{"name":"brt"},"transform":[{"filter":"datum.p==='I'"}],"mark":{"type":"text","fontSize":4.5,"color":"#333","dy":-4},"encoding":{"y":{"field":"top","type":"quantitative"},"text":{"field":"label"}}}
  ]},
 {"width":104,"height":103,"title":{"text":"J","offset":-4,"dx":-10,"fontSize":12},
  "layer":[
  {"data":{"name":"bx"},"transform":[{"filter":"datum.p==='J'"}],"mark":{"type":"rule","strokeDash":[2,1.5],"strokeWidth":0.5,"color":"#555"},
   "encoding":{"x":{"field":"c","type":"nominal","scale":{"paddingInner":0.2,"paddingOuter":0.14},"axis":{"labelAngle":0,"title":"clinical"}},
    "y":{"field":"lo","type":"quantitative","scale":{"domain":[-8800,211000],"nice":false,"zero":false},"axis":{"values":[0,50000,100000,150000,200000],"format":"d","labelAngle":270,"title":"hsa−miR−145−5p expression"}},"y2":{"field":"hi"}}},
  {"data":{"name":"bx"},"transform":[{"filter":"datum.p==='J'"}],"mark":{"type":"tick","size":20,"thickness":0.6,"color":"#555"},"encoding":{"x":{"field":"c","type":"nominal"},"y":{"field":"lo","type":"quantitative"}}},
  {"data":{"name":"bx"},"transform":[{"filter":"datum.p==='J'"}],"mark":{"type":"tick","size":20,"thickness":0.6,"color":"#555"},"encoding":{"x":{"field":"c","type":"nominal"},"y":{"field":"hi","type":"quantitative"}}},
  {"data":{"name":"bx"},"transform":[{"filter":"datum.p==='J'"}],"mark":{"type":"bar","stroke":"#555","strokeWidth":0.5},"encoding":{"x":{"field":"c","type":"nominal"},"y":{"field":"q1","type":"quantitative"},"y2":{"field":"q3"},"fill":{"field":"c","type":"nominal","scale":{"domain":["Normal","Tumor"],"range":["#ff0000","#00cd00"]},"legend":null}}},
  {"data":{"name":"bx"},"transform":[{"filter":"datum.p==='J'"}],"mark":{"type":"tick","size":40,"thickness":1.4,"color":"#000"},"encoding":{"x":{"field":"c","type":"nominal"},"y":{"field":"md","type":"quantitative"}}},
  {"data":{"name":"br"},"transform":[{"filter":"datum.p==='J'"}],"mark":{"type":"line","strokeWidth":0.5,"color":"#777"},"encoding":{"x":{"field":"c","type":"nominal"},"y":{"field":"top","type":"quantitative"}}},
  {"data":{"name":"br"},"transform":[{"filter":"datum.p==='J'"}],"mark":{"type":"rule","strokeWidth":0.5,"color":"#777"},"encoding":{"x":{"field":"c","type":"nominal"},"y":{"field":"top","type":"quantitative"},"y2":{"field":"bot"}}},
  {"data":{"name":"brt"},"transform":[{"filter":"datum.p==='J'"}],"mark":{"type":"text","fontSize":4.5,"color":"#333","dy":-4},"encoding":{"y":{"field":"top","type":"quantitative"},"text":{"field":"label"}}}
  ]}
 ]},
{"spacing":7,
 "resolve":{"scale":{"color":"independent","fill":"independent","stroke":"independent"},"legend":{"color":"independent","fill":"independent","stroke":"independent"}},
 "hconcat":[
 {"width":329,"height":99,"title":{"text":"K","offset":-12,"dx":-2},"view":{"stroke":null},"resolve":{"axis":{"x":"independent"}},
  "layer":[
  {"mark":{"type":"rule","color":"#555","strokeWidth":1},"encoding":{"y":{"datum":0,"type":"quantitative"}}},
  {"data":{"name":"kk"},"mark":{"type":"rule","strokeWidth":1.2},
   "encoding":{"x":{"field":"c","type":"nominal","scale":{"domain":["Thymus ( THYM )","Prostate ( PRAD )","Brain ( LGG )","Kidney ( KIRC )","Pleura ( MESO )","Uterus ( UCEC )","Breast ( BRCA )","Pancreas ( PAAD )","Lung ( LUAD )","Soft Tissue ( SARC )","Testis ( TGCT )","Stomach ( STAD )","Bile Duct ( CHOL )","Colorectal ( READ )","Thyroid ( THCA )","Lung ( LUSC )","Colorectal ( COAD )","Cervix ( CESC )","Liver ( LIHC )","Esophagus ( ESCA )","Adrenal Gland ( PCPG )","Lymph Nodes ( DLBC )","Bladder ( BLCA )","Head and Neck ( HNSC )","Adrenal Gland ( ACC )","Skin ( SKCM )","Eye ( UVM )","Kidney ( KICH )","Kidney ( KIRP )","Uterus ( UCS )","Ovary ( OV )","Brain ( GBM )"],"paddingInner":0.2,"paddingOuter":0.3},
     "axis":{"orient":"top","labels":false,"ticks":false,"domain":false,"title":"hsa-miR-195-5p","titleFont":"Open Sans","titleFontSize":10,"titleColor":"#444","titlePadding":6}},
    "xOffset":{"field":"g","type":"nominal","scale":{"domain":["Normal","Tumor"],"paddingInner":0.05}},
    "y":{"field":"lo","type":"quantitative","scale":{"domain":[-0.6,9.6],"nice":false,"zero":false},"axis":{"values":[0,2,4,6,8],"grid":true,"gridColor":"#eee","ticks":false,"labelFont":"Open Sans","labelFontSize":7,"labelColor":"#666","labelPadding":5,"title":"RSEM(log2)","titleFont":"Open Sans","titleFontSize":7,"titleColor":"#666","titlePadding":5}},
    "y2":{"field":"hi"},
    "color":{"field":"g","type":"nominal","scale":{"range":["#34348c","#e4211c"]},"legend":null}}},
  {"data":{"name":"kk"},"mark":{"type":"bar","strokeOpacity":0},
   "encoding":{"x":{"field":"c","type":"nominal","axis":{"labelAngle":-55,"labelFont":"Open Sans","labelFontSize":7,"labelColor":"#666","ticks":false,"labelPadding":3,"labelLimit":200,"title":"Cancer Types (TCGA)","titleFont":"Open Sans","titleFontSize":8,"titleColor":"#555","titlePadding":3}},
    "xOffset":{"field":"g","type":"nominal"},
    "y":{"field":"q1","type":"quantitative"},"y2":{"field":"q3"},
    "fill":{"field":"g","type":"nominal","scale":{"domain":["Normal","Tumor"],"range":["#8c8cc6","#ef8684"]},"legend":{"orient":"none","legendX":234,"legendY":-17,"direction":"horizontal","title":null,"symbolType":"square","symbolSize":60,"symbolStrokeWidth":1.2,"symbolStrokeColor":"#555","labelFont":"Open Sans","labelFontSize":7,"labelColor":"#444","columnPadding":10,"padding":0,"strokeColor":"white"}}}},
  {"data":{"name":"kk"},"mark":{"type":"bar","filled":false,"strokeWidth":1},
   "encoding":{"x":{"field":"c","type":"nominal","axis":null},"xOffset":{"field":"g","type":"nominal"},"y":{"field":"q1","type":"quantitative"},"y2":{"field":"q3"},"color":{"field":"g","type":"nominal"}}},
  {"data":{"name":"kk"},"mark":{"type":"tick","size":4,"thickness":1},
   "encoding":{"x":{"field":"c","type":"nominal","axis":null},"xOffset":{"field":"g","type":"nominal"},"y":{"field":"md","type":"quantitative"},"color":{"field":"g","type":"nominal"}}},
  {"data":{"name":"kout"},"mark":{"type":"circle","size":10,"opacity":1},
   "encoding":{"x":{"field":"c","type":"nominal","axis":null},"xOffset":{"field":"g","type":"nominal"},"y":{"field":"v","type":"quantitative"},"color":{"field":"g","type":"nominal"}}}
  ]},
 {"width":316,"height":99,"title":{"text":"L","offset":-12,"dx":-2},"view":{"stroke":null},"resolve":{"axis":{"x":"independent"}},
  "layer":[
  {"data":{"name":"ll"},"mark":{"type":"rule","strokeWidth":1.2},
   "encoding":{"x":{"field":"c","type":"nominal","scale":{"domain":["Adrenal Gland ( PCPG )","Adrenal Gland ( ACC )","Kidney ( KIRC )","Kidney ( KICH )","Uterus ( UCS )","Uterus ( UCEC )","Soft Tissue ( SARC )","Skin ( SKCM )","Breast ( BRCA )","Kidney ( KIRP )","Colorectal ( COAD )","Testis ( TGCT )","Prostate ( PRAD )","Bladder ( BLCA )","Cervix ( CESC )","Ovary ( OV )","Head and Neck ( HNSC )","Thymus ( THYM )","Pleura ( MESO )","Colorectal ( READ )","Thyroid ( THCA )","Lymph Nodes ( DLBC )","Esophagus ( ESCA )","Liver ( LIHC )","Pancreas ( PAAD )","Stomach ( STAD )","Lung ( LUSC )","Brain ( LGG )","Lung ( LUAD )","Bile Duct ( CHOL )","Eye ( UVM )","Brain ( GBM )"],"paddingInner":0.2,"paddingOuter":0.3},
     "axis":{"orient":"top","labels":false,"ticks":false,"domain":false,"title":"hsa-miR-10b-5p","titleFont":"Open Sans","titleFontSize":10,"titleColor":"#444","titlePadding":9}},
    "xOffset":{"field":"g","type":"nominal","scale":{"domain":["Normal","Tumor"],"paddingInner":0.05}},
    "y":{"field":"lo","type":"quantitative","scale":{"domain":[3.2,20.6],"nice":false,"zero":false},"axis":{"values":[5,10,15,20],"grid":true,"gridColor":"#eee","ticks":false,"labelFont":"Open Sans","labelFontSize":7,"labelColor":"#666","labelPadding":5,"title":"RSEM(log2)","titleFont":"Open Sans","titleFontSize":7,"titleColor":"#666","titlePadding":5}},
    "y2":{"field":"hi"},
    "color":{"field":"g","type":"nominal","scale":{"range":["#34348c","#e4211c"]},"legend":null}}},
  {"data":{"name":"ll"},"mark":{"type":"bar","strokeOpacity":0},
   "encoding":{"x":{"field":"c","type":"nominal","axis":{"labelAngle":-55,"labelFont":"Open Sans","labelFontSize":7,"labelColor":"#666","ticks":false,"labelPadding":3,"labelLimit":200,"title":"Cancer Types (TCGA)","titleFont":"Open Sans","titleFontSize":8,"titleColor":"#555","titlePadding":3}},
    "xOffset":{"field":"g","type":"nominal"},
    "y":{"field":"q1","type":"quantitative"},"y2":{"field":"q3"},
    "fill":{"field":"g","type":"nominal","scale":{"domain":["Normal","Tumor"],"range":["#8c8cc6","#ef8684"]},"legend":{"orient":"none","legendX":222,"legendY":-14,"direction":"horizontal","title":null,"symbolType":"square","symbolSize":60,"symbolStrokeWidth":1.2,"symbolStrokeColor":"#555","labelFont":"Open Sans","labelFontSize":7,"labelColor":"#444","columnPadding":10,"padding":0,"strokeColor":"white"}}}},
  {"data":{"name":"ll"},"mark":{"type":"bar","filled":false,"strokeWidth":1},
   "encoding":{"x":{"field":"c","type":"nominal","axis":null},"xOffset":{"field":"g","type":"nominal"},"y":{"field":"q1","type":"quantitative"},"y2":{"field":"q3"},"color":{"field":"g","type":"nominal"}}},
  {"data":{"name":"ll"},"mark":{"type":"tick","size":4,"thickness":1},
   "encoding":{"x":{"field":"c","type":"nominal","axis":null},"xOffset":{"field":"g","type":"nominal"},"y":{"field":"md","type":"quantitative"},"color":{"field":"g","type":"nominal"}}},
  {"data":{"name":"lout"},"mark":{"type":"circle","size":10,"opacity":1},
   "encoding":{"x":{"field":"c","type":"nominal","axis":null},"xOffset":{"field":"g","type":"nominal"},"y":{"field":"v","type":"quantitative"},"color":{"field":"g","type":"nominal"}}}
  ]}
 ]}
]
}
